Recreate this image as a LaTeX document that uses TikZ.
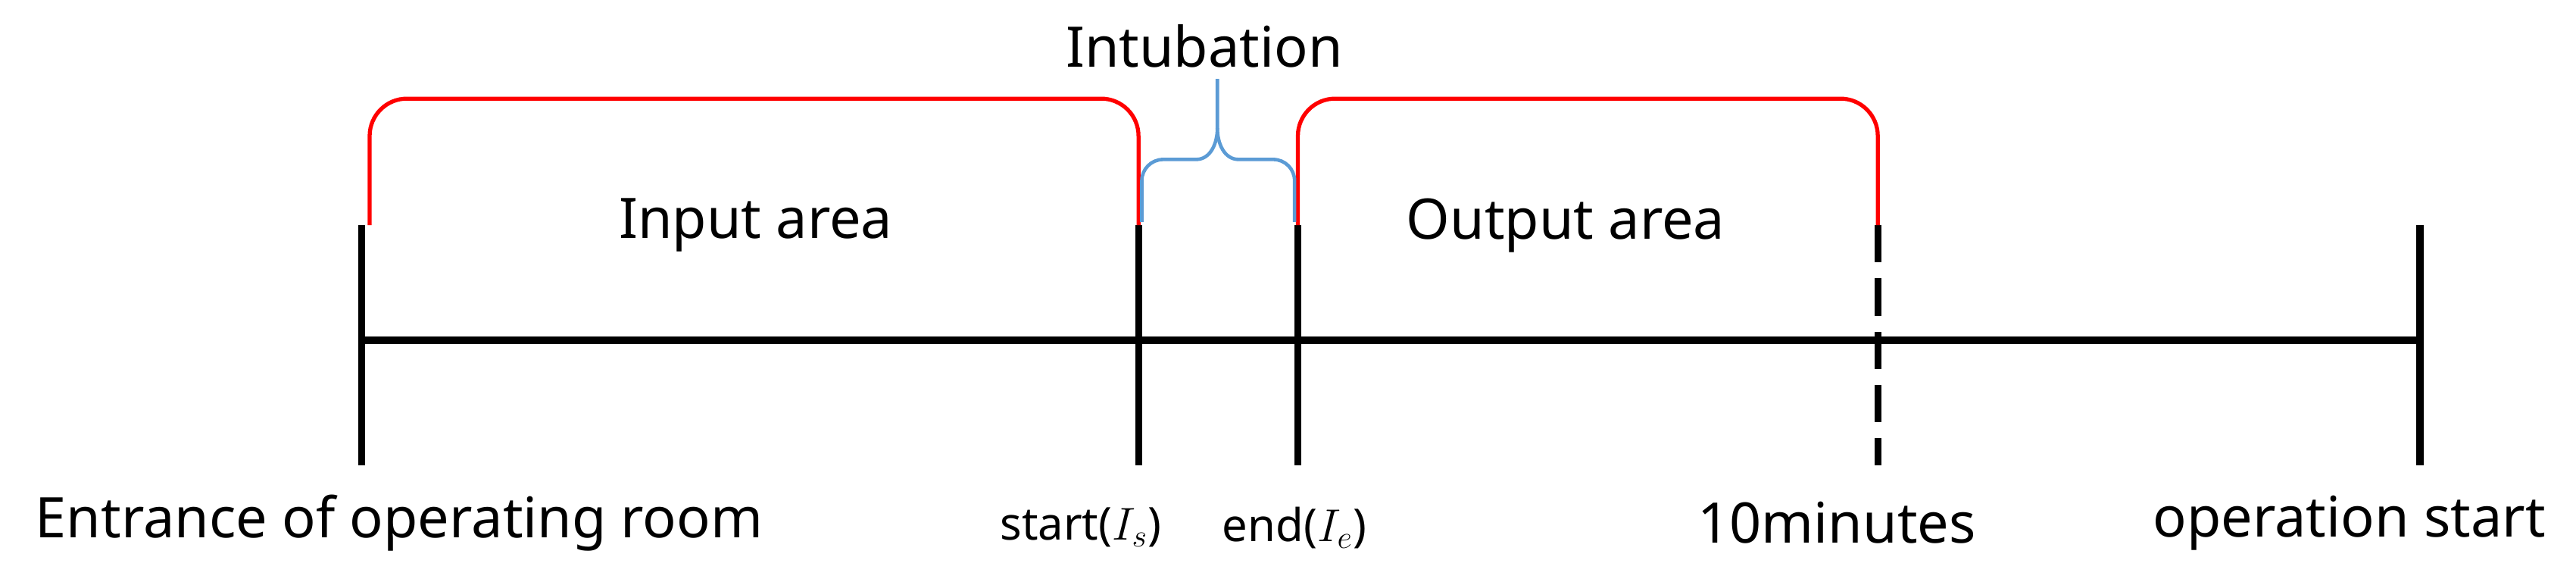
\documentclass[tikz,border=0pt]{standalone}
\usepackage{fontspec}
\setmainfont{Noto Sans}
\begin{document}
\begin{tikzpicture}[x=0.02169cm,y=-0.02169cm,
  tick/.style={line width=2.6pt,black},
  axis/.style={line width=2.6pt,black},
  red brace/.style={line width=1.5pt,red,rounded corners=14},
  blue brace/.style={line width=1.3pt,color={rgb,255:red,91;green,155;blue,213}},
  lbl/.style={font=\fontsize{21}{25}\selectfont,inner sep=0pt}]
\useasboundingbox (0,0) rectangle (1568,352);
% axis
\coordinate (a0) at (220,207); \coordinate (a1) at (1475,207);
\draw[axis] (a0) -- (a1);
% ticks
\draw[tick] (220,137) -- (220,283);
\draw[tick] (693,137) -- (693,283);
\draw[tick] (790,137) -- (790,283);
\draw[tick,dash pattern=on 14pt off 6pt] (1143,137) -- (1143,283);
\draw[tick] (1473,137) -- (1473,283);
% red braces
\draw[red brace] (225,137) -- (225,60) -- (693,60) -- (693,137);
\draw[red brace] (790,137) -- (790,60) -- (1143,60) -- (1143,137);
% blue brace
\draw[blue brace] (695,135) -- (695,110) to[out=90,in=180] (708,97) -- (728,97)
  to[out=0,in=-90] (741,78) -- (741,48);
\draw[blue brace] (741,78) to[out=-90,in=180] (754,97) -- (775,97)
  to[out=0,in=90] (788,110) -- (788,135);
% labels
\node[lbl] (intub) at (733,28) {Intubation};
\node[lbl] (inp) at (460,137) {Input area};
\node[lbl] (outp) at (953,137) {Output area};
\node[lbl] (ent) at (243,318) {Entrance of operating room};
\node[lbl,font=\fontsize{17}{20}\selectfont] (st) at (658,321) {start($I_s$)};
\node[lbl,font=\fontsize{17}{20}\selectfont] (en) at (788,321) {end($I_e$)};
\node[lbl] (ten) at (1118,318) {10minutes};
\node[lbl] (op) at (1430,318) {operation start};
\end{tikzpicture}
\end{document}
